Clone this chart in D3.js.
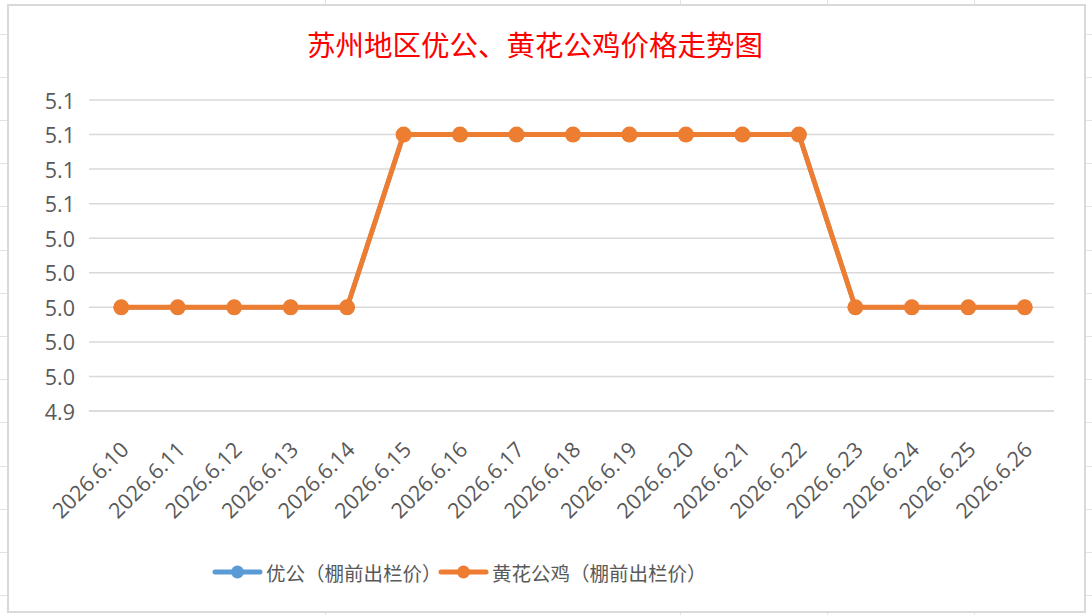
<!DOCTYPE html>
<html>
<head>
<meta charset="utf-8">
<script src="https://cdn.jsdelivr.net/npm/d3@7"></script>
<style>
  body { margin: 0; background: #fff; }
  svg { display: block; }
  .sheetLine { stroke: #e3e3e3; stroke-width: 1; }
  .gridLine { stroke: #d9d9d9; stroke-width: 1.5; }
  .yLabel, .xLabel { font-family: "Open Sans", "Noto Sans", sans-serif; font-size: 21.5px; fill: #595959; }
  .legendText { font-family: "Noto Sans CJK SC", sans-serif; font-size: 19.5px; fill: #595959; }
  .chartTitle { font-family: "Noto Sans CJK SC", sans-serif; font-size: 28.5px; fill: #ff0000; }
</style>
</head>
<body>
<script>
(function(){
  // *************************************************** //
  // chart data
  var dates = ["2026.6.10", "2026.6.11", "2026.6.12", "2026.6.13", "2026.6.14", "2026.6.15",
               "2026.6.16", "2026.6.17", "2026.6.18", "2026.6.19", "2026.6.20", "2026.6.21",
               "2026.6.22", "2026.6.23", "2026.6.24", "2026.6.25", "2026.6.26"];
  // 优公 (hidden under the orange line, same values)
  var youGong = [5.00, 5.00, 5.00, 5.00, 5.00, 5.10, 5.10, 5.10, 5.10, 5.10, 5.10, 5.10, 5.10, 5.00, 5.00, 5.00, 5.00];
  // 黄花公鸡
  var huangHua = [5.00, 5.00, 5.00, 5.00, 5.00, 5.10, 5.10, 5.10, 5.10, 5.10, 5.10, 5.10, 5.10, 5.00, 5.00, 5.00, 5.00];
  // y axis ticks and their (rounded) labels
  var yTicks = [4.94, 4.96, 4.98, 5.00, 5.02, 5.04, 5.06, 5.08, 5.10, 5.12];
  var yTickLabels = ["4.9", "5.0", "5.0", "5.0", "5.0", "5.0", "5.1", "5.1", "5.1", "5.1"];
  var seriesNames = ["优公（棚前出栏价）", "黄花公鸡（棚前出栏价）"];
  var seriesColors = ["#5b9bd5", "#ed7d31"];
  var title = "苏州地区优公、黄花公鸡价格走势图";

  var width = 1092,
      height = 615;

  var svg = d3.select("body")
    .append("svg")
    .attr("width", width)
    .attr("height", height);

  // spreadsheet cells behind the chart
  var sheetRows = d3.range(33.5, height, 43.2);
  var sheetCols = [325, 680, 827, 974];
  svg.selectAll(".sheetRow")
    .data(sheetRows)
    .enter()
    .append("line")
    .attr("class", "sheetLine")
    .attr("x1", 0).attr("x2", width)
    .attr("y1", function(d){ return Math.round(d) + 0.5; })
    .attr("y2", function(d){ return Math.round(d) + 0.5; });
  svg.selectAll(".sheetCol")
    .data(sheetCols)
    .enter()
    .append("line")
    .attr("class", "sheetLine")
    .attr("y1", 0).attr("y2", height)
    .attr("x1", function(d){ return d + 0.5; })
    .attr("x2", function(d){ return d + 0.5; });

  // chart frame
  svg.append("rect")
    .attr("x", 8)
    .attr("y", 5)
    .attr("width", 1077)
    .attr("height", 607)
    .attr("fill", "#fff")
    .attr("stroke", "#d9d9d9")
    .attr("stroke-width", 2);

  // title
  svg.append("text")
    .attr("class", "chartTitle")
    .attr("x", 535)
    .attr("y", 43)
    .attr("text-anchor", "middle")
    .attr("dominant-baseline", "central")
    .text(title);

  // scales
  var xScale = d3.scalePoint()
    .domain(dates)
    .range([93, 1053])
    .padding(0.5);

  var yScale = d3.scaleLinear()
    .domain([4.94, 5.12])
    .range([411, 100]);

  // horizontal gridlines
  svg.selectAll(".gridLine")
    .data(yTicks)
    .enter()
    .append("line")
    .attr("class", "gridLine")
    .attr("x1", 89)
    .attr("x2", 1054)
    .attr("y1", function(d){ return yScale(d); })
    .attr("y2", function(d){ return yScale(d); })
    .style("stroke", function(d, i){ return i == 0 ? "#d0d0d0" : null; });

  // y labels
  svg.selectAll(".yLabel")
    .data(yTicks)
    .enter()
    .append("text")
    .attr("class", "yLabel")
    .attr("x", 75)
    .attr("y", function(d){ return yScale(d); })
    .attr("text-anchor", "end")
    .attr("dominant-baseline", "central")
    .text(function(d, i){ return yTickLabels[i]; });

  // x labels, rotated
  svg.selectAll(".xLabel")
    .data(dates)
    .enter()
    .append("text")
    .attr("class", "xLabel")
    .attr("text-anchor", "end")
    .attr("transform", function(d){
      return "translate(" + (xScale(d) + 9) + ",451) rotate(-45)";
    })
    .text(function(d){ return d; });

  // lines and markers
  var line = d3.line()
    .x(function(d, i){ return xScale(dates[i]); })
    .y(function(d){ return yScale(d); });

  [youGong, huangHua].forEach(function(values, s){
    svg.append("path")
      .datum(values)
      .attr("fill", "none")
      .attr("stroke", seriesColors[s])
      .attr("stroke-width", s == 0 ? 4.5 : 5)
      .attr("stroke-linejoin", "round")
      .attr("d", line);

    svg.selectAll(".dot" + s)
      .data(values)
      .enter()
      .append("circle")
      .attr("cx", function(d, i){ return xScale(dates[i]); })
      .attr("cy", function(d){ return yScale(d); })
      .attr("r", s == 0 ? 7.5 : 8)
      .attr("fill", seriesColors[s]);
  });

  // legend
  var legendX = [215, 441];
  var legend = svg.selectAll(".legendItem")
    .data(seriesNames)
    .enter()
    .append("g")
    .attr("transform", function(d, i){ return "translate(" + legendX[i] + ",572)"; });

  legend.append("line")
    .attr("x1", 0).attr("x2", 45)
    .attr("y1", 0).attr("y2", 0)
    .attr("stroke", function(d, i){ return seriesColors[i]; })
    .attr("stroke-width", 5)
    .attr("stroke-linecap", "round");

  legend.append("circle")
    .attr("cx", 22.5)
    .attr("cy", 0)
    .attr("r", 6.5)
    .attr("fill", function(d, i){ return seriesColors[i]; });

  legend.append("text")
    .attr("class", "legendText")
    .attr("x", 51)
    .attr("y", 0)
    .attr("dominant-baseline", "central")
    .text(function(d){ return d; });

})();
</script>
</body>
</html>
